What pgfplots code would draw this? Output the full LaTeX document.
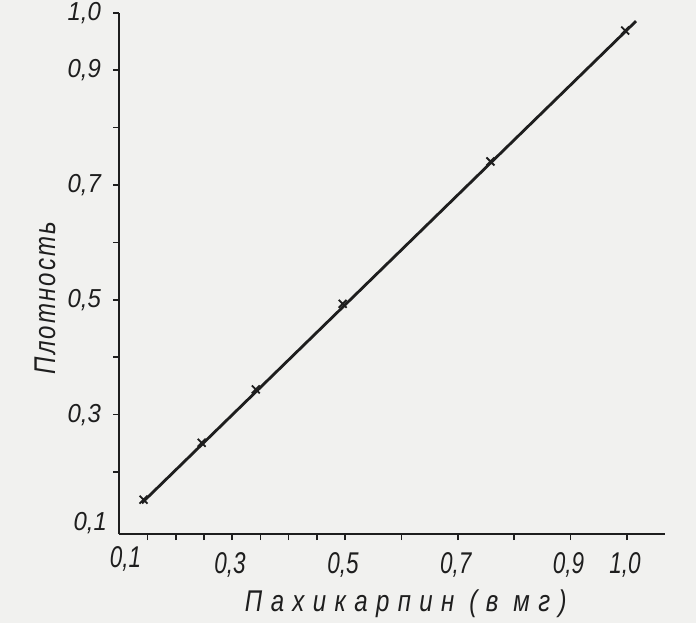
\documentclass[border=0pt]{standalone}
\usepackage{fontspec}
\setmainfont{Liberation Sans}
\newfontfamily\xtickfont{Liberation Sans}[FakeStretch=0.75]
\newfontfamily\ytickfont{Liberation Sans}[FakeStretch=0.92]
\newfontfamily\xlblfont{Liberation Sans}[FakeStretch=0.8,LetterSpace=28]
\newfontfamily\ylblfont{Liberation Sans}[FakeStretch=0.8,LetterSpace=7]
\usepackage{pgfplots}
\pgfplotsset{compat=1.18}
\definecolor{paper}{RGB}{241,241,239}
\definecolor{ink}{RGB}{30,30,30}

\begin{document}
\begin{tikzpicture}
\fill[paper] (-59.65pt,-44.5pt) rectangle (288.35pt,267.05pt);
\begin{axis}[
  at={(0pt,0pt)}, anchor=south west,
  scale only axis, width=272.85pt, height=260.7pt,
  xmin=0.1, xmax=1.0675, ymin=0.092, ymax=1.0,
  axis lines=left,
  axis line style={-, line width=1.1pt, ink},
  tick align=outside,
  tick style={ink, line width=0.8pt},
  major tick length=3pt, minor tick length=3pt,
  xtick={0.3,0.5,0.7,0.9,1.0},
  xticklabels={{0,3},{0,5},{0,7},{0,9},{1,0}},
  extra x ticks={0.1145},
  extra x tick labels={0{,}1},
  extra x tick style={major tick length=0pt},
  minor xtick={0.15,0.2,0.25,0.35,0.4,0.45,0.6,0.8},
  ytick={0.3,0.5,0.7,0.9,1.0},
  yticklabels={{0,3},{0,5},{0,7},{0,9},{1,0}},
  extra y ticks={0.111},
  extra y tick labels={0{,}1},
  extra y tick style={major tick length=0pt},
  minor ytick={0.2,0.4,0.6,0.8},
  xticklabel style={font=\xtickfont\fontsize{15}{15}\selectfont\itshape, text=ink, anchor=north, inner sep=0pt, yshift=-6pt, xshift=-1pt},
  yticklabel style={font=\ytickfont\fontsize{13}{13}\selectfont\itshape, text=ink, anchor=east, inner sep=0pt, xshift=-6pt},
  xlabel={Пахикарпин (в мг)},
  ylabel={Плотность},
  xlabel style={font=\xlblfont\fontsize{15}{15}\selectfont\itshape, text=ink, at={(axis description cs:0.525,-0.1343)}, anchor=center},
  ylabel style={font=\ylblfont\fontsize{15}{15}\selectfont\itshape, text=ink, at={(axis description cs:-0.1362,0.4527)}, anchor=center},
  clip=false,
]
% fitted straight line
\addplot[ink, line width=1.4pt] coordinates {(0.1397,0.1459) (1.0161,0.9853)};
% measured points
\addplot[only marks, mark=x, mark size=2.8pt, mark options={ink, line width=0.9pt}] coordinates {
  (0.143,0.152) (0.246,0.251) (0.342,0.344) (0.496,0.493) (0.758,0.741) (0.997,0.969)
};
\end{axis}
\pgfresetboundingbox
\path (-59.65pt,-44.5pt) rectangle (288.35pt,267.05pt);
\end{tikzpicture}
\end{document}
